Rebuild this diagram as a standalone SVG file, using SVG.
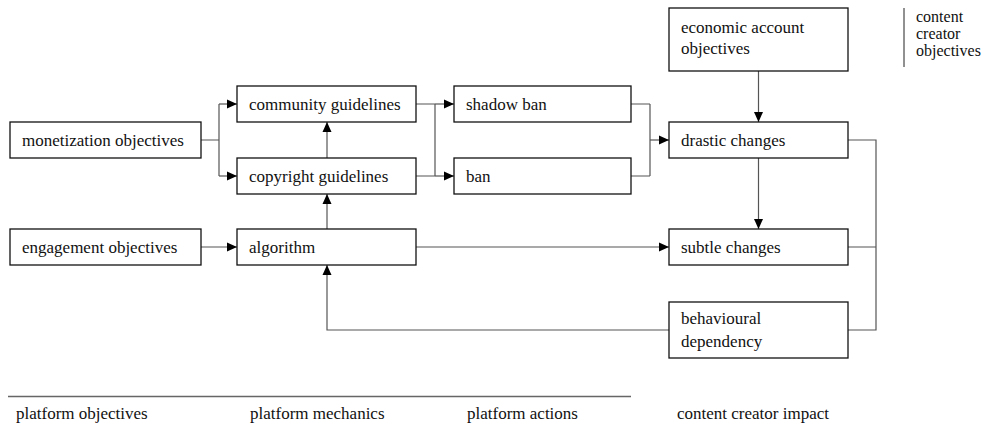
<svg xmlns="http://www.w3.org/2000/svg" width="984" height="425" viewBox="0 0 984 425">
<style>
  .box{fill:#fff;stroke:#111;stroke-width:1.3}
  .t{font-family:"Liberation Serif","Times New Roman",serif;font-size:17px;fill:#111}
  .c{fill:none;stroke:#555;stroke-width:1.2}
  .ca{fill:none;stroke:#555;stroke-width:1.2;marker-end:url(#ah)}
</style>
<defs>
  <marker id="ah" markerUnits="userSpaceOnUse" markerWidth="11" markerHeight="10" refX="10" refY="5" orient="auto">
    <path d="M0,0.5 L10,5 L0,9.5 z" fill="#000"/>
  </marker>
  <linearGradient id="g1" x1="0" x2="1" y1="0" y2="0">
    <stop offset="0" stop-color="#111"/>
    <stop offset="0.4" stop-color="#111"/>
    <stop offset="0.55" stop-color="#888"/>
    <stop offset="0.7" stop-color="#111"/>
    <stop offset="1" stop-color="#111"/>
  </linearGradient>
</defs>
<rect width="984" height="425" fill="#fff"/>

<g id="connectors">
  <path class="c" d="M201,140 H219 M219,104 V176"/>
  <path class="ca" d="M219,104 H237"/>
  <path class="ca" d="M219,176 H237"/>
  <path class="ca" d="M327,158 V122"/>
  <path class="ca" d="M327,229 V194"/>
  <path class="c" d="M416,104 H435 M416,176 H435 M435,104 V176"/>
  <path class="ca" d="M435,104 H454"/>
  <path class="ca" d="M435,176 H454"/>
  <path class="c" d="M631,104 H650 M631,176 H650 M650,104 V176"/>
  <path class="ca" d="M650,140 H669"/>
  <path class="ca" d="M758.5,71 V122"/>
  <path class="ca" d="M758.5,158 V229"/>
  <path class="ca" d="M201,247 H237"/>
  <path class="ca" d="M416,247 H669"/>
  <path class="c" d="M848,140 H876 V330 H848 M848,247 H876"/>
  <path class="ca" d="M669,330 H327 V265"/>
</g>

<g id="monetization">
  <rect class="box" x="10" y="122" width="191" height="36"/>
  <text class="t" x="22" y="145.5">monetization objectives</text>
</g>
<g id="engagement">
  <rect class="box" x="10" y="229" width="191" height="36"/>
  <text class="t" x="22" y="252.5">engagement objectives</text>
</g>
<g id="community">
  <rect class="box" x="237" y="86" width="179" height="36"/>
  <text class="t" x="249" y="109.5">community guidelines</text>
</g>
<g id="copyright">
  <rect class="box" x="237" y="158" width="179" height="36"/>
  <text class="t" x="249" y="181.5">copyright guidelines</text>
</g>
<g id="algorithm">
  <rect class="box" x="237" y="229" width="179" height="36"/>
  <text class="t" x="249" y="252.5">algorithm</text>
</g>
<g id="shadowban">
  <rect class="box" x="454" y="86" width="177" height="36"/>
  <text class="t" x="466" y="109.5">shadow ban</text>
</g>
<g id="ban">
  <rect class="box" x="454" y="158" width="177" height="36"/>
  <text class="t" x="466" y="181.5">ban</text>
</g>
<g id="economic">
  <rect class="box" x="669" y="8" width="179" height="63"/>
  <text class="t" x="681" y="33">economic account</text>
  <text class="t" x="681" y="54">objectives</text>
</g>
<g id="drastic">
  <rect class="box" x="669" y="122" width="179" height="36"/>
  <text class="t" x="681" y="145.5">drastic changes</text>
</g>
<g id="subtle">
  <rect class="box" x="669" y="229" width="179" height="36"/>
  <text class="t" x="681" y="252.5">subtle changes</text>
</g>
<g id="behavioural">
  <rect class="box" x="669" y="302" width="179" height="56"/>
  <text class="t" x="681" y="324">behavioural</text>
  <text class="t" x="681" y="347">dependency</text>
</g>
<g id="creator-objectives">
  <line x1="904" y1="8" x2="904" y2="67" stroke="#222" stroke-width="1"/>
  <text class="t" x="916" y="22" style="font-size:16px">content</text>
  <text class="t" x="916" y="39" style="font-size:16px">creator</text>
  <text class="t" x="916" y="56" style="font-size:16px">objectives</text>
</g>

<g id="legend">
  <line x1="8" y1="396.5" x2="631" y2="396.5" stroke="#666" stroke-width="1.5"/>
  <line x1="670" y1="393.5" x2="847" y2="393.5" stroke="url(#g1)" stroke-width="1.5"/>
  <text class="t" x="16" y="419">platform objectives</text>
  <text class="t" x="250" y="419">platform mechanics</text>
  <text class="t" x="467" y="419">platform actions</text>
  <text class="t" x="677" y="419">content creator impact</text>
</g>
</svg>
